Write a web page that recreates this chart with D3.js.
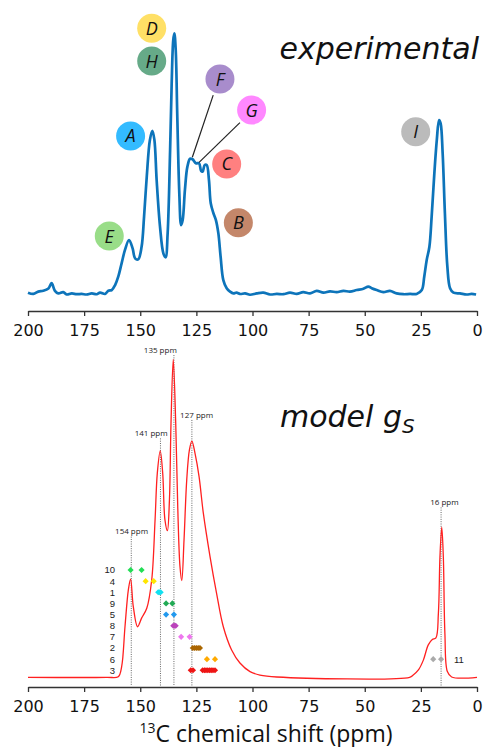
<!DOCTYPE html>
<html>
<head>
<meta charset="utf-8">
<script src="https://cdn.jsdelivr.net/npm/d3@7"></script>
<style>
  html, body { margin: 0; padding: 0; background: #fff; }
  svg { display: block; }
</style>
</head>
<body>
<svg id="chart" width="484" height="747"></svg>
<script>
// experimental 13C spectrum, [ppm, intensity]
const expShift = [200,197.6,195.4,193.2,190.9,189.5,188.0,186.5,184.3,182.8,180.5,178.3,176.1,173.9,171.6,169.4,167.9,165.7,164.2,162.7,161.2,159.8,158.3,156.8,155.0,153.4,152.3,150.9,149.4,148.3,147.1,145.7,144.6,143.7,142.7,141.2,139.7,138.7,137.8,136.7,136.0,135.3,134.8,134.2,133.5,132.6,131.8,131.1,130.1,129.0,127.8,126.7,125.2,123.8,122.9,122.2,121.3,120.4,119.4,118.6,117.4,116.3,115.2,114.2,113.0,111.5,110.0,108.5,107.1,105.6,103.3,101.1,98.1,95.2,92.2,89.2,86.3,83.3,80.3,77.4,74.4,71.4,68.4,65.5,62.5,59.5,56.6,53.6,50.6,48.4,46.9,44.7,41.7,38.8,35.8,32.8,29.8,26.9,24.6,23.5,22.4,21.2,20.2,19.0,17.9,16.9,16.2,15.3,14.3,13.2,12.0,10.5,7.6,4.6,2.4,0.4];
const expInt = [0.9,0.4,1.3,1.6,2.5,4.5,1.6,0.6,1.1,0.2,0.6,0.3,0.4,0.2,0.6,0.3,0.9,0.4,1.6,1.9,3.8,7.0,12.1,17.2,21.0,17.8,14.0,13.6,18.4,29.9,45.2,59.2,62.7,59.2,43.9,26.1,15.9,14.4,23.5,55.3,80.8,97.3,99.9,93.5,68.1,38.8,26.7,28.6,40.1,49.0,52.0,51.8,50.3,50.3,47.4,47.1,49.6,49.6,43.9,35.0,31.2,28.6,23.5,14.6,5.7,2.6,1.3,0.6,0.9,0.4,0.6,0.1,0.6,0.9,0.2,0.4,0.3,0.9,0.4,1.1,0.6,1.6,0.9,1.4,1.1,1.6,1.3,1.9,2.4,3.2,2.6,1.9,1.1,1.6,0.6,0.3,0.4,0.4,1.9,7.0,13.4,18.4,29.9,46.4,59.2,66.8,65.5,54.1,31.2,10.8,2.6,0.9,0.6,0.2,0.4,0.2];

// model g_S spectrum, [ppm, intensity]
const modShift = [200,165,159.8,158.3,156.8,155.3,154.3,153.1,151.2,149.4,147.1,144.9,143.4,142.4,141.1,140.0,139.0,137.9,137.0,136.3,135.3,134.2,133.3,132.3,131.5,130.5,129.3,128.1,127.0,125.6,123.8,121.9,118.9,116.0,113.0,109.3,105.6,101.1,96.7,89.2,30,28.4,26.1,23.9,21.7,19.9,18.3,17.2,16.5,15.7,15.0,14.3,13.2,11.3,0];
const modInt = [0,0,0.2,3.3,15.9,27.5,30.9,22.2,15.9,18.6,21.7,30.6,49.5,64.2,71.2,64.2,49.5,46.1,55.8,79.9,100,79.9,53.6,34.8,30.4,43.2,62.0,71.5,74.3,70.4,63.1,51.6,37.9,26.4,15.9,8.6,4.5,1.8,0.7,0.1,0,0.7,2.3,5.4,10.2,11.9,12.4,20.1,37.9,47.2,37.9,13.8,1.8,0.1,0];

// marked peaks in the model
const peakPpm = [154, 141, 135, 127, 16];
const peakNames = ["154 ppm", "141 ppm", "135 ppm", "127 ppm", "16 ppm"];

// assignment rows (diamonds)
const rowLabels = ["10", "4", "1", "9", "5", "8", "7", "2", "6", "3"];
const rowColors = ["#22dd55", "#ffe600", "#11e0f0", "#22aa55", "#2299ee", "#bb44bb", "#ee77ee", "#aa6600", "#ffaa00", "#ee1515"];
const rowShifts = [
  [154.3, 149.4],
  [147.6, 144.0],
  [142.0, 141.5, 140.9],
  [138.5, 135.7],
  [138.5, 135.0],
  [135.3, 134.7, 134.2],
  [131.8, 128.0],
  [126.6, 125.8, 125.0, 124.2, 123.4],
  [120.3, 116.7],
  [127.5, 126.5, 122.2, 121.4, 120.7, 119.9, 119.1, 118.4, 117.6, 116.7]
];
const row11Shifts = [19.5, 16.0];

// letter annotations in the experimental panel
const letters = ["D", "H", "F", "G", "A", "C", "B", "E", "I"];
const letterColors = ["#ffe066", "#66aa88", "#a88ccc", "#ff88ff", "#33bbff", "#ff8080", "#c4876a", "#99dd88", "#bbbbbb"];

const xTicks = [200, 175, 150, 125, 100, 75, 50, 25, 0];

// ---- layout ----
const svg = d3.select("#chart");
const x = d3.scaleLinear().domain([200, 0]).range([28, 477]);
const yTop = d3.scaleLinear().domain([0, 100]).range([295, 33]);
const yBot = d3.scaleLinear().domain([0, 100]).range([677.3, 359.3]);

const letterPos = {   // [ppm, intensity] in top-panel units
  D: [144.9, 101.8], H: [144.9, 89.3], F: [114.5, 82.4], G: [100.4, 70.6],
  A: [154.3, 60.7], C: [111.5, 50.0], B: [106.3, 27.6], E: [163.8, 22.5], I: [27.3, 62.3]
};
const leaders = [
  [[117.5, 76.3], [126.8, 52.6]],
  [[105.6, 65.8], [123.8, 50.6]]
];
// label centre offsets (px) and heights (model units) for the peak tags
const peakDx = [0.3, -9.3, -13.6, 4.7, 3.3];
const peakLabelY = [45.8, 76.7, 102.9, 82.5, 55.0];

function drawAxis(y0) {
  const g = svg.append("g")
    .attr("transform", `translate(0,${y0})`)
    .call(d3.axisBottom(x).tickValues(xTicks).tickSize(5).tickSizeOuter(0).tickPadding(9));
  g.select(".domain").attr("stroke", "#333").attr("stroke-width", 1.3);
  g.selectAll(".tick line").attr("stroke", "#333").attr("stroke-width", 1.3);
  g.selectAll(".tick text")
    .attr("font-family", "DejaVu Sans")
    .attr("font-size", 16)
    .attr("fill", "#111");
}

// ---- top panel ----
const expData = expShift.map((s, i) => [s, expInt[i]]);
svg.append("path")
  .datum(expData)
  .attr("fill", "none")
  .attr("stroke", "#0d74ba")
  .attr("stroke-width", 2.7)
  .attr("stroke-linejoin", "round")
  .attr("d", d3.line().x(d => x(d[0])).y(d => yTop(d[1])).curve(d3.curveCatmullRom));

drawAxis(311);

svg.append("text")
  .attr("x", 479).attr("y", 59)
  .attr("text-anchor", "end")
  .attr("font-family", "DejaVu Sans")
  .attr("font-style", "italic")
  .attr("font-size", 30)
  .attr("fill", "#111")
  .text("experimental");

svg.selectAll(".leader")
  .data(leaders)
  .join("line")
  .attr("class", "leader")
  .attr("x1", d => x(d[0][0])).attr("y1", d => yTop(d[0][1]))
  .attr("x2", d => x(d[1][0])).attr("y2", d => yTop(d[1][1]))
  .attr("stroke", "#222").attr("stroke-width", 1.2);

const lg = svg.selectAll(".letter")
  .data(letters)
  .join("g")
  .attr("class", "letter")
  .attr("transform", d => `translate(${x(letterPos[d][0])},${yTop(letterPos[d][1])})`);
lg.append("circle")
  .attr("r", 14.5)
  .attr("fill", (d, i) => letterColors[i]);
lg.append("text")
  .attr("text-anchor", "middle")
  .attr("dy", "0.36em")
  .attr("font-family", "Open Sans")
  .attr("font-style", "italic")
  .attr("font-size", 18)
  .attr("fill", "#111")
  .text(d => d);

// ---- bottom panel ----
svg.selectAll(".peakline")
  .data(peakPpm)
  .join("line")
  .attr("class", "peakline")
  .attr("x1", d => x(d)).attr("x2", d => x(d))
  .attr("y1", (d, i) => yBot(peakLabelY[i]) + 5)
  .attr("y2", 686)
  .attr("stroke", "#555")
  .attr("stroke-width", 0.9)
  .attr("stroke-dasharray", "1,1.3");

const modData = modShift.map((s, i) => [s, modInt[i]]);
svg.append("path")
  .datum(modData)
  .attr("fill", "none")
  .attr("stroke", "#ff2020")
  .attr("stroke-width", 1.3)
  .attr("d", d3.line().x(d => x(d[0])).y(d => yBot(d[1])).curve(d3.curveCatmullRom));

svg.selectAll(".peaklabel")
  .data(peakNames)
  .join("text")
  .attr("class", "peaklabel")
  .attr("x", (d, i) => x(peakPpm[i]) + peakDx[i])
  .attr("y", (d, i) => yBot(peakLabelY[i]) + 2.8)
  .attr("text-anchor", "middle")
  .attr("font-family", "Open Sans")
  .attr("font-size", 8)
  .attr("fill", "#222")
  .text(d => d);

const rowY = d3.scalePoint().domain(rowLabels).range([570, 670.3]);
const diamond = d3.symbol(d3.symbolDiamond2, 24);

rowLabels.forEach((lab, i) => {
  svg.append("g")
    .selectAll("path")
    .data(rowShifts[i])
    .join("path")
    .attr("d", diamond)
    .attr("transform", d => `translate(${x(d)},${rowY(lab)})`)
    .attr("fill", rowColors[i]);
});
svg.append("g")
  .selectAll("path")
  .data(row11Shifts)
  .join("path")
  .attr("d", diamond)
  .attr("transform", d => `translate(${x(d)},${rowY("6")})`)
  .attr("fill", "#aaaaaa");

svg.selectAll(".rowlabel")
  .data(rowLabels)
  .join("text")
  .attr("class", "rowlabel")
  .attr("x", 115)
  .attr("y", d => rowY(d))
  .attr("dy", "0.36em")
  .attr("text-anchor", "end")
  .attr("font-family", "Liberation Sans")
  .attr("font-size", 9.5)
  .attr("fill", "#222")
  .text(d => d);
svg.append("text")
  .attr("x", 454)
  .attr("y", rowY("6"))
  .attr("dy", "0.36em")
  .attr("font-family", "Liberation Sans")
  .attr("font-size", 9.5)
  .attr("fill", "#222")
  .text("11");

drawAxis(687);

const mt = svg.append("text")
  .attr("x", 280).attr("y", 427)
  .attr("font-family", "DejaVu Sans")
  .attr("font-style", "italic")
  .attr("font-size", 30)
  .attr("fill", "#111");
mt.append("tspan").text("model g");
mt.append("tspan").attr("font-size", 20).attr("dy", 5.5).text("S");

const xt = svg.append("text")
  .attr("x", 266).attr("y", 741.5)
  .attr("text-anchor", "middle")
  .attr("font-family", "Open Sans")
  .attr("font-size", 23)
  .attr("fill", "#111");
xt.append("tspan").attr("font-size", 14).attr("dy", -9).text("13");
xt.append("tspan").attr("dy", 9).text("C chemical shift (ppm)");
</script>
</body>
</html>
